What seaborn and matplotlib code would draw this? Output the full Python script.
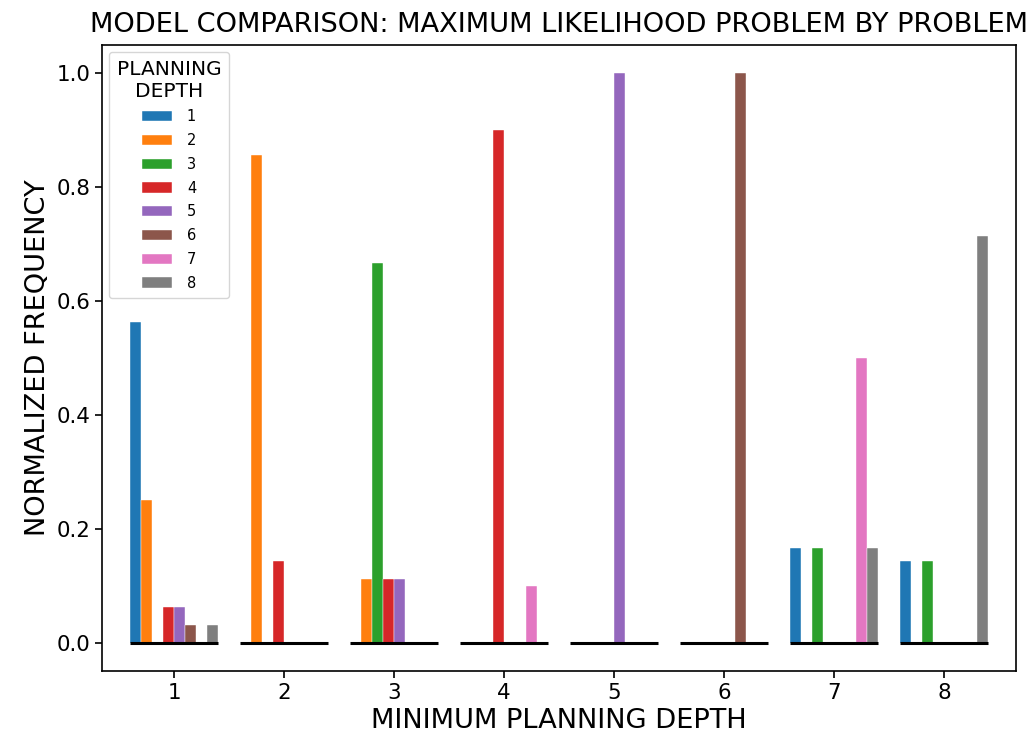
import matplotlib
matplotlib.use("Agg")
import matplotlib.pyplot as plt
import seaborn as sns
import pandas as pd
import numpy as np

# Minimum planning depth of each problem (x groups)
min_depths = [1, 2, 3, 4, 5, 6, 7, 8]
# Planning depth of the maximum-likelihood model (hue levels)
planning_depths = [1, 2, 3, 4, 5, 6, 7, 8]

# Normalized frequency of each planning depth, per minimum planning depth
freq_depth1 = [0.5625, 0.25, 0.0, 0.0625, 0.0625, 0.03125, 0.0, 0.03125]
freq_depth2 = [0.0, 0.857, 0.0, 0.143, 0.0, 0.0, 0.0, 0.0]
freq_depth3 = [0.0, 0.111, 0.667, 0.111, 0.111, 0.0, 0.0, 0.0]
freq_depth4 = [0.0, 0.0, 0.0, 0.9, 0.0, 0.0, 0.1, 0.0]
freq_depth5 = [0.0, 0.0, 0.0, 0.0, 1.0, 0.0, 0.0, 0.0]
freq_depth6 = [0.0, 0.0, 0.0, 0.0, 0.0, 1.0, 0.0, 0.0]
freq_depth7 = [0.1667, 0.0, 0.1667, 0.0, 0.0, 0.0, 0.5, 0.1667]
freq_depth8 = [0.1429, 0.0, 0.1429, 0.0, 0.0, 0.0, 0.0, 0.7143]

freqs = [freq_depth1, freq_depth2, freq_depth3, freq_depth4,
         freq_depth5, freq_depth6, freq_depth7, freq_depth8]

rows = []
for md, fr in zip(min_depths, freqs):
    for pd_, v in zip(planning_depths, fr):
        rows.append({"min_depth": md, "planning_depth": pd_, "freq": v})
df = pd.DataFrame(rows)

fig = plt.figure(figsize=(10.34, 7.44), dpi=100)
ax = fig.add_axes([102 / 1034, 1 - 671 / 744, (1016 - 102) / 1034, (671 - 45) / 744])

palette = sns.color_palette("tab10", len(planning_depths))
sns.barplot(data=df, x="min_depth", y="freq", hue="planning_depth",
            order=min_depths, hue_order=planning_depths, palette=palette,
            saturation=1, width=0.8, ax=ax, errorbar=None,
            edgecolor="white", linewidth=0.3)

# Zero baseline under each group
for i in range(len(min_depths)):
    ax.hlines(0, i - 0.4, i + 0.4, colors="black", linewidth=2.2, zorder=3)

ax.set_xlim(-0.655, len(min_depths) - 1 + 0.655)
ax.set_ylim(-0.05, 1.05)
ax.set_yticks([0.0, 0.2, 0.4, 0.6, 0.8, 1.0])
ax.set_yticklabels(["0.0", "0.2", "0.4", "0.6", "0.8", "1.0"])
ax.tick_params(labelsize=15.4, width=1.2, length=5)
for s in ax.spines.values():
    s.set_linewidth(1.2)

ax.set_xlabel("MINIMUM PLANNING DEPTH", fontsize=19.6)
ax.set_ylabel("NORMALIZED FREQUENCY", fontsize=19.6)
ax.set_title("MODEL COMPARISON: MAXIMUM LIKELIHOOD PROBLEM BY PROBLEM",
             fontsize=19.6, pad=9)

leg = ax.legend(title="PLANNING\nDEPTH", loc="upper left", fontsize=10.5,
                title_fontsize=14.5, borderpad=0.5, labelspacing=0.6,
                handlelength=2.1, handletextpad=1.0)
leg.get_title().set_multialignment("center")

fig.savefig("out.png", dpi=100)
